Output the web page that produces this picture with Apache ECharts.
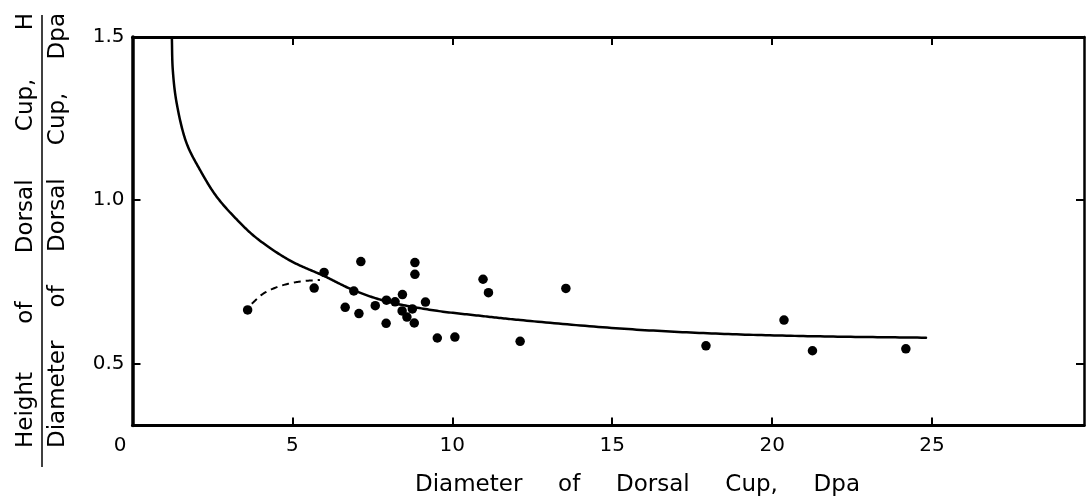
<!DOCTYPE html>
<html><head><meta charset="utf-8">
<script src="https://cdn.jsdelivr.net/npm/echarts@6/dist/echarts.min.js"></script>
<style>html,body{margin:0;padding:0;background:#fff}#c{width:1086px;height:504px}</style>
</head><body><div id="c"></div>
<script>
// ---- data ----
const xTickLabels = [0, 5, 10, 15, 20, 25];
const xTicks = [5, 10, 15, 20, 25];
const yTickLabels = [0.5, 1.0, 1.5];
const yTicks = [0.5, 1.0];

const pointsX = [3.60, 5.68, 5.99, 7.14, 6.92, 6.65, 7.08, 7.59, 7.94, 8.21, 8.44, 8.43, 8.58, 8.75, 8.81, 7.93, 8.83, 8.83, 9.16, 9.53, 10.08, 10.96, 11.13, 12.12, 13.55, 17.93, 20.37, 21.26, 24.18];
const pointsY = [0.664, 0.731, 0.779, 0.812, 0.722, 0.672, 0.653, 0.677, 0.694, 0.689, 0.711, 0.661, 0.642, 0.667, 0.624, 0.623, 0.809, 0.773, 0.688, 0.578, 0.581, 0.758, 0.717, 0.568, 0.730, 0.554, 0.633, 0.539, 0.545];

const curveX = [1.23, 1.26, 1.38, 1.69, 2.11, 2.63, 3.30, 3.88, 4.93, 5.99, 6.92, 7.95, 9.40, 10.87, 12.12, 15.24, 18.37, 21.50, 24.81];
const curveY = [1.50, 1.399, 1.298, 1.175, 1.093, 1.011, 0.937, 0.884, 0.815, 0.768, 0.724, 0.690, 0.663, 0.646, 0.633, 0.607, 0.591, 0.583, 0.579];

const dashX = [3.73, 4.09, 4.61, 5.24, 5.86];
const dashY = [0.683, 0.714, 0.737, 0.751, 0.756];

const xTitleWords = ['Diameter', 'of', 'Dorsal', 'Cup,', 'Dpa'];
const yTitleTopWords = ['Height', 'of', 'Dorsal', 'Cup,', 'H'];
const yTitleBottomWords = ['Diameter', 'of', 'Dorsal', 'Cup,', 'Dpa'];

// ---- style ----
const INK = '#000';
const FONT_FAMILY = '"DejaVu Sans", sans-serif';
const TITLE_SIZE = 23;
const TICK_SIZE = 20;

const zip = (a, b) => a.map((v, i) => [v, b[i]]);

const measureCtx = document.createElement('canvas').getContext('2d');
measureCtx.font = TITLE_SIZE + 'px ' + FONT_FAMILY;
const w = s => measureCtx.measureText(s).width;

// centripetal Catmull-Rom through pixel points
function catmullRom(pts, samples) {
  if (pts.length < 3) return pts;
  const n = pts.length;
  const first = [2 * pts[0][0] - pts[1][0], 2 * pts[0][1] - pts[1][1]];
  const last = [2 * pts[n - 1][0] - pts[n - 2][0], 2 * pts[n - 1][1] - pts[n - 2][1]];
  const e = [first, ...pts, last];
  const d = (a, b) => Math.max(1e-6, Math.pow(Math.hypot(b[0] - a[0], b[1] - a[1]), 0.5));
  const lerp = (a, b, ta, tb, t) => [a[0] * (tb - t) / (tb - ta) + b[0] * (t - ta) / (tb - ta), a[1] * (tb - t) / (tb - ta) + b[1] * (t - ta) / (tb - ta)];
  const out = [];
  for (let i = 1; i < e.length - 2; i++) {
    const p0 = e[i - 1], p1 = e[i], p2 = e[i + 1], p3 = e[i + 2];
    const t0 = 0, t1 = t0 + d(p0, p1), t2 = t1 + d(p1, p2), t3 = t2 + d(p2, p3);
    for (let s = 0; s < samples; s++) {
      const t = t1 + (t2 - t1) * s / samples;
      const A1 = lerp(p0, p1, t0, t1, t), A2 = lerp(p1, p2, t1, t2, t), A3 = lerp(p2, p3, t2, t3, t);
      const B1 = lerp(A1, A2, t0, t2, t), B2 = lerp(A2, A3, t1, t3, t);
      out.push(lerp(B1, B2, t1, t2, t));
    }
  }
  out.push(pts[n - 1]);
  return out;
}

function curveSeries(xs, ys, lineStyle) {
  return {
    type: 'custom',
    data: zip(xs, ys),
    encode: { x: 0, y: 1 },
    clip: true,
    silent: true,
    z: 2,
    renderItem: (params, api) => {
      if (params.dataIndex !== 0) return null;
      const px = xs.map((x, i) => api.coord([x, ys[i]]));
      return {
        type: 'polyline',
        shape: { points: catmullRom(px, 24) },
        style: Object.assign({ fill: null, stroke: INK, lineJoin: 'round', lineCap: 'round' }, lineStyle)
      };
    }
  };
}

// vertical justified word placement (rotated text, reads bottom-to-top)
function vWords(words, cx, yBottom, yTop) {
  const total = yBottom - yTop;
  const widths = words.map(w);
  const sum = widths.reduce((a, b) => a + b, 0);
  const gap = (total - sum) / (words.length - 1);
  let y = yBottom;
  return words.map((t, i) => {
    const el = {
      type: 'text', x: cx, y: y, rotation: Math.PI / 2,
      style: { text: t, font: TITLE_SIZE + 'px ' + FONT_FAMILY, fill: INK, align: 'left', verticalAlign: 'middle' },
      silent: true
    };
    y -= widths[i] + gap;
    return el;
  });
}
function hWords(words, left, right, cy) {
  const widths = words.map(w);
  const sum = widths.reduce((a, b) => a + b, 0);
  const gap = (right - left - sum) / (words.length - 1);
  let x = left;
  return words.map((t, i) => {
    const el = {
      type: 'text', x: x, y: cy,
      style: { text: t, font: TITLE_SIZE + 'px ' + FONT_FAMILY, fill: INK, align: 'left', verticalAlign: 'middle' },
      silent: true
    };
    x += widths[i] + gap;
    return el;
  });
}

const chart = echarts.init(document.getElementById('c'), null, { renderer: 'canvas' });

const tickLabelStyle = { color: INK, fontSize: TICK_SIZE, fontFamily: FONT_FAMILY };

chart.setOption({
  animation: false,
  backgroundColor: '#fff',
  grid: { left: 132.5, right: 2, top: 37, bottom: 78.5, containLabel: false },
  xAxis: [
    {
      type: 'value', position: 'bottom', min: 0, max: 29.75,
      axisLine: { show: true, onZero: false, lineStyle: { color: INK, width: 3 } },
      axisTick: { show: true, inside: true, length: 8, customValues: xTicks, lineStyle: { color: INK, width: 2 } },
      axisLabel: {
        show: true, margin: 10, customValues: xTickLabels, ...tickLabelStyle,
        formatter: v => v === 0 ? '{z|0}' : String(v),
        rich: { z: { padding: [0, 25, 0, 0], fontSize: TICK_SIZE, fontFamily: FONT_FAMILY, color: INK } }
      },
      splitLine: { show: false }
    },
    {
      type: 'value', position: 'top', min: 0, max: 29.75,
      axisLine: { show: true, onZero: false, lineStyle: { color: INK, width: 3 } },
      axisTick: { show: true, inside: true, length: 8, customValues: xTicks, lineStyle: { color: INK, width: 2 } },
      axisLabel: { show: false },
      splitLine: { show: false }
    }
  ],
  yAxis: [
    {
      type: 'value', position: 'left', min: 0.31, max: 1.5,
      axisLine: { show: true, onZero: false, lineStyle: { color: INK, width: 3.5 } },
      axisTick: { show: true, inside: true, length: 8, customValues: yTicks, lineStyle: { color: INK, width: 2 } },
      axisLabel: { show: true, margin: 8, customValues: yTickLabels, ...tickLabelStyle, formatter: v => v.toFixed(1) },
      splitLine: { show: false }
    },
    {
      type: 'value', position: 'right', min: 0.31, max: 1.5,
      axisLine: { show: true, onZero: false, lineStyle: { color: INK, width: 2.5 } },
      axisTick: { show: true, inside: true, length: 8, customValues: yTicks, lineStyle: { color: INK, width: 2 } },
      axisLabel: { show: false },
      splitLine: { show: false }
    }
  ],
  series: [
    curveSeries(curveX, curveY, { lineWidth: 2.5 }),
    curveSeries(dashX, dashY, { lineWidth: 2, lineDash: [7, 5], lineCap: 'butt' }),
    {
      type: 'scatter', data: zip(pointsX, pointsY), symbol: 'circle', symbolSize: 9.5,
      itemStyle: { color: INK, opacity: 1 }, silent: true, z: 3
    }
  ],
  graphic: [
    ...vWords(yTitleTopWords, 26, 448, 13),
    { type: 'line', shape: { x1: 42, y1: 15, x2: 42, y2: 467 }, style: { stroke: INK, lineWidth: 1.5 }, silent: true },
    ...vWords(yTitleBottomWords, 58, 448, 13),
    ...hWords(xTitleWords, 415, 860, 485)
  ]
});
</script>
</body></html>
